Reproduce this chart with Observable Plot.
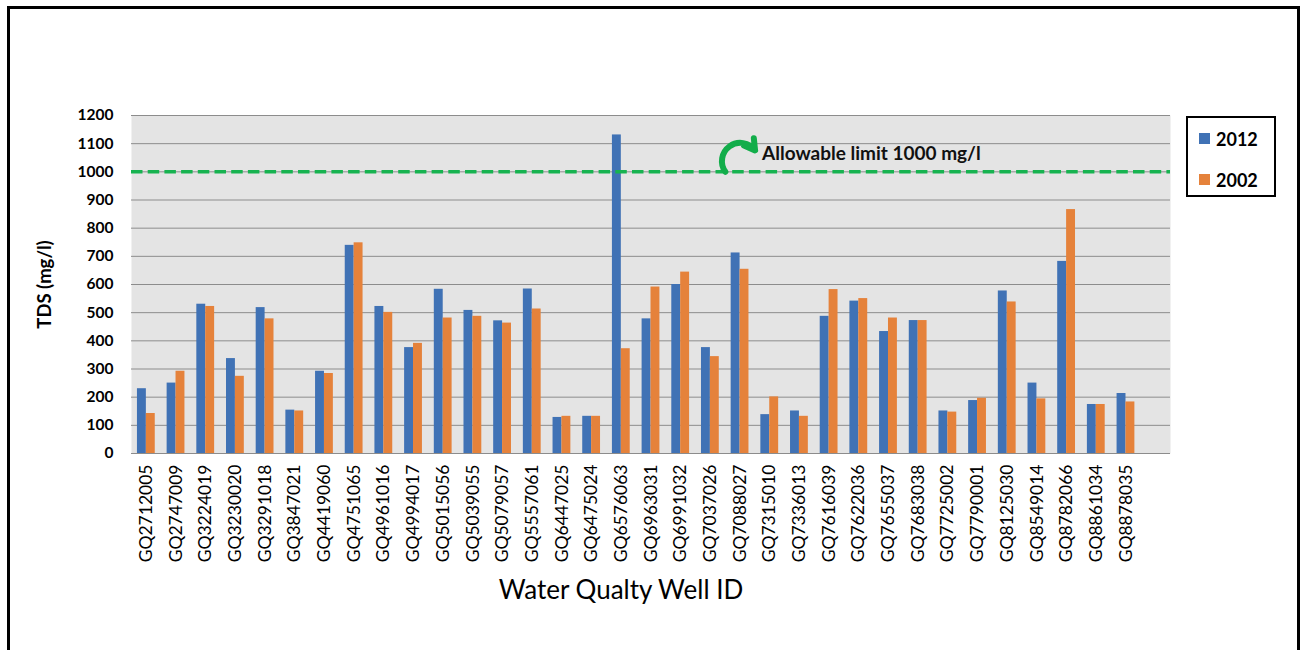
<!DOCTYPE html>
<html>
<head>
<meta charset="utf-8">
<script src="https://cdn.jsdelivr.net/npm/d3@7"></script>
<script src="https://cdn.jsdelivr.net/npm/@observablehq/plot@0.6"></script>
<style>
  html, body { margin: 0; padding: 0; background: #fff; }
  body { width: 1301px; height: 650px; position: relative; overflow: hidden; font-family: Lato, sans-serif; }
  #chart { position: absolute; left: 0; top: 0; }
  #frame { position: absolute; left: 7px; top: 6px; width: 1287px; height: 720px; border: 3px solid #000; pointer-events: none; }
  #legend { position: absolute; left: 1186px; top: 116px; width: 86px; height: 77px; border: 2px solid #000; background: #fff; }
  #legend .lg-swatches { margin: 0; padding: 0 0 0 11px; }
  #legend .lg-swatch { height: 41px; padding: 0; }
  #legend .lg-swatch > svg { margin-right: 6px; }
</style>
</head>
<body>
<div id="chart"></div>
<div id="legend"></div>
<div id="frame"></div>
<script>
// ---- data ----
const wells = [
  "GQ2712005","GQ2747009","GQ3224019","GQ3230020","GQ3291018","GQ3847021","GQ4419060",
  "GQ4751065","GQ4961016","GQ4994017","GQ5015056","GQ5039055","GQ5079057","GQ5557061",
  "GQ6447025","GQ6475024","GQ6576063","GQ6963031","GQ6991032","GQ7037026","GQ7088027",
  "GQ7315010","GQ7336013","GQ7616039","GQ7622036","GQ7655037","GQ7683038","GQ7725002",
  "GQ7790001","GQ8125030","GQ8549014","GQ8782066","GQ8861034","GQ8878035"
];
const tds2012 = [
  230, 250, 530, 337, 518, 154, 292,
  739, 522, 376, 583, 508, 471, 584,
  128, 132, 1131, 478, 600, 376, 712,
  138, 151, 487, 541, 433, 472, 151,
  188, 577, 250, 682, 174, 213
];
const tds2002 = [
  142, 292, 522, 274, 478, 151, 284,
  748, 501, 391, 481, 487, 463, 513,
  132, 132, 372, 591, 644, 344, 654,
  201, 132, 582, 550, 481, 472, 147,
  196, 538, 194, 866, 174, 183
];
const seriesNames = ["2012", "2002"];
const seriesColors = ["#4072b5", "#e5823b"];
const yTicks = [0, 100, 200, 300, 400, 500, 600, 700, 800, 900, 1000, 1100, 1200];
const limitValue = [1000];
const limitNote = [{well: "GQ7088027", value: 1065, label: "Allowable limit 1000 mg/l"}];
const limitArrow = [{fromWell: "GQ7037026", fromValue: 1000, toWell: "GQ7088027", toValue: 1076}];
const yLabel = ["TDS (mg/l)"];
const xLabel = ["Water Qualty Well ID"];

// ---- chart ----
const plot = Plot.plot({
  width: 1301,
  height: 650,
  marginLeft: 131,
  marginRight: 131,
  marginTop: 115,
  marginBottom: 197,
  style: {fontFamily: "Lato, sans-serif", background: "transparent", color: "#000", overflow: "visible"},
  x: {domain: wells, paddingInner: 0.4, paddingOuter: 0.7, align: 0.143, round: false, axis: null},
  y: {domain: [0, 1200], axis: null},
  marks: [
    Plot.frame({fill: "#e4e4e4", stroke: "none"}),
    Plot.ruleY(yTicks, {stroke: "#8c8c8c", strokeWidth: 1}),
    Plot.barY(tds2012, {x: wells, y: tds2012, fill: seriesColors[0], insetRight: 8.9}),
    Plot.barY(tds2002, {x: wells, y: tds2002, fill: seriesColors[1], insetLeft: 8.9}),
    Plot.ruleY(limitValue, {stroke: "#17b350", strokeWidth: 3.5, strokeDasharray: "11.5,5.2"}),
    Plot.arrow(limitArrow, {x1: "fromWell", y1: "fromValue", x2: "toWell", y2: "toValue",
      bend: 90, stroke: "#12ad4a", strokeWidth: 6, headLength: 7, dx: 15}),
    Plot.text(limitNote, {x: "well", y: "value", text: "label", textAnchor: "start", dx: 22,
      fontSize: 19, fontWeight: "bold", fill: "#111"}),
    Plot.axisY({ticks: yTicks, tickFormat: d3.format("d"), tickSize: 0, tickPadding: 18,
      fontSize: 15.5, fontWeight: "bold", label: null}),
    Plot.axisX({tickSize: 0, tickPadding: 11, tickRotate: -90, fontSize: 17.5, label: null}),
    Plot.text(yLabel, {frameAnchor: "left", text: d => d, rotate: -90, textAnchor: "middle",
      lineAnchor: "middle", dx: -86, fontSize: 18.5, fontWeight: "bold"}),
    Plot.text(xLabel, {frameAnchor: "bottom", text: d => d, lineAnchor: "middle",
      dy: 137, dx: -30, fontSize: 26})
  ]
});
document.getElementById("chart").appendChild(plot);

const legend = Plot.legend({
  color: {type: "ordinal", domain: seriesNames, range: seriesColors},
  legend: "swatches",
  columns: 1,
  swatchSize: 11,
  className: "lg",
  style: {fontFamily: "Lato, sans-serif", fontSize: "18px", fontWeight: "bold", color: "#000"}
});
document.getElementById("legend").appendChild(legend);
</script>
</body>
</html>
